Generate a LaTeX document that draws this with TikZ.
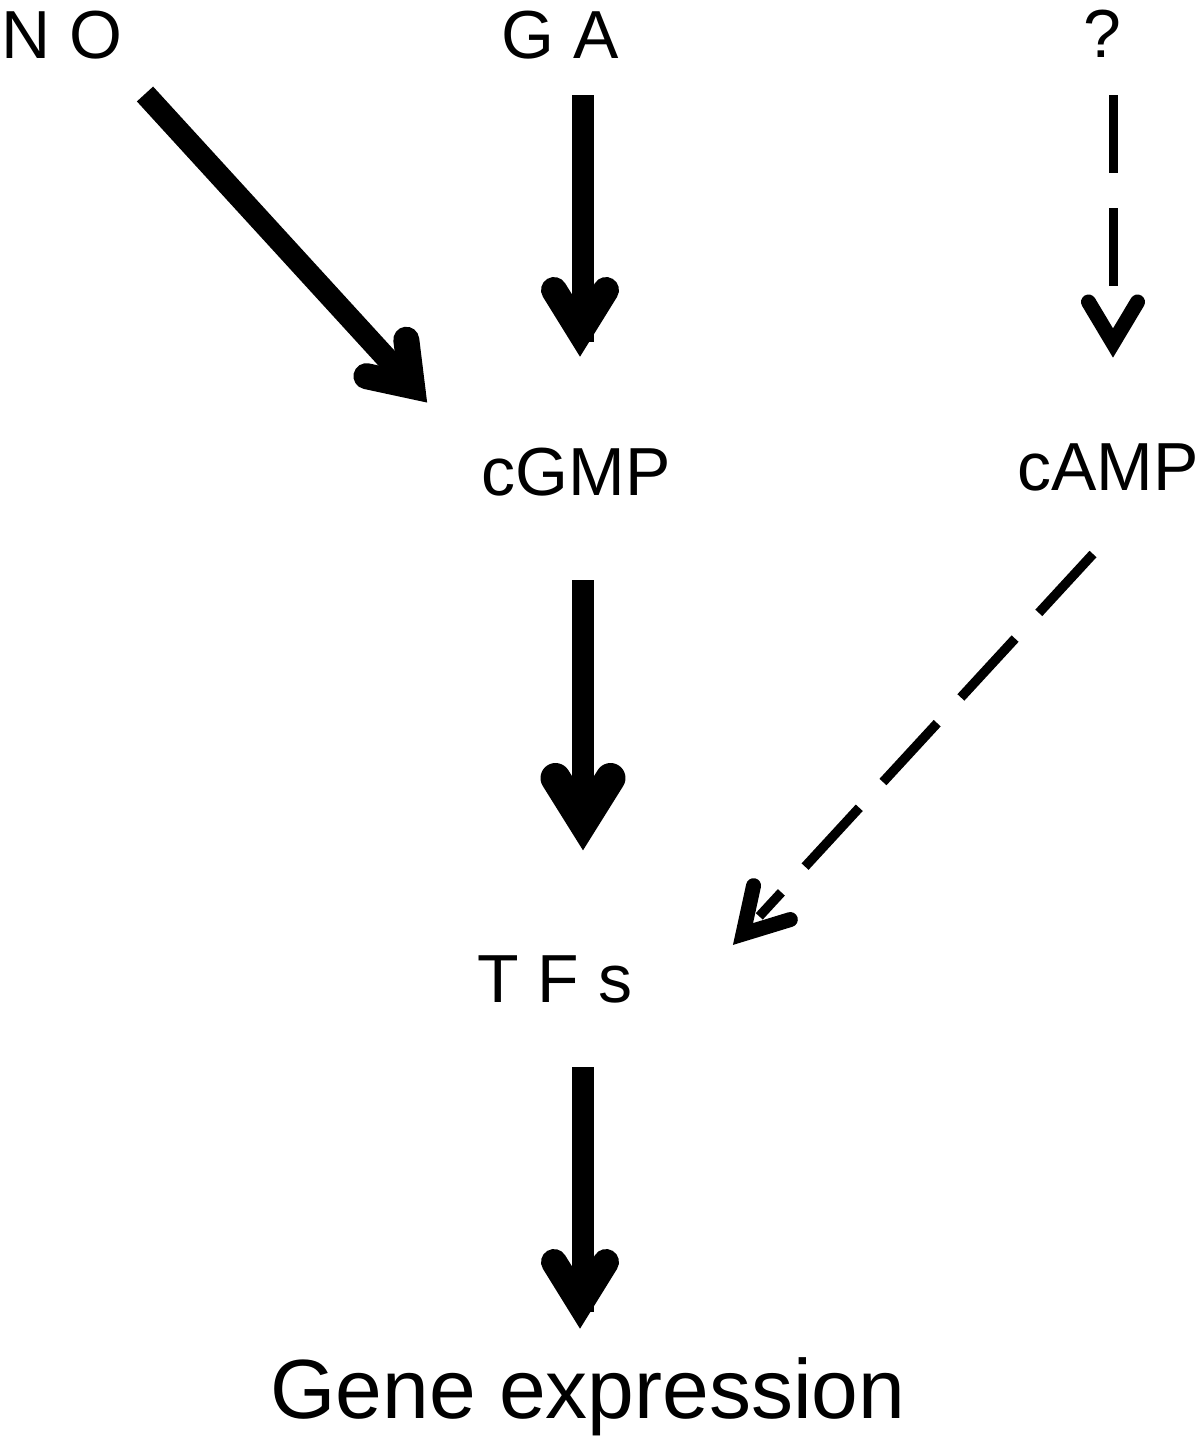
\documentclass[tikz,border=0pt]{standalone}
\usepackage{fontspec}
\setmainfont{Liberation Sans}
\usetikzlibrary{calc}
% head: #1 style, #2 prefix, #3 vertex, #4 back reference, #5 back distance, #6 half spread
\newcommand\myhead[6]{%
  \coordinate (#2m) at ($(#3)!#5!(#4)$);
  \coordinate (#2l) at ($(#2m)!#6!90:(#3)$);
  \coordinate (#2r) at ($(#2m)!#6!-90:(#3)$);
  \draw[#1] (#2l) -- (#3) -- (#2r);}
\begin{document}
\begin{tikzpicture}[x=1pt,y=-1pt,
  lbl/.style={inner sep=0pt, anchor=base, font=\fontsize{68}{80}\selectfont},
  biglbl/.style={inner sep=0pt, anchor=base, font=\fontsize{84}{100}\selectfont},
  bigshaft/.style={line width=22pt, line cap=butt},
  bighead/.style={line width=26pt, line cap=round, line join=miter},
  dshaft/.style={line width=9.5pt, line cap=butt, dash pattern=on 78pt off 35pt},
  dhead/.style={line width=15pt, line cap=round, line join=miter}]
\useasboundingbox (0,0) rectangle (1200,1438);

% labels
\node[lbl] (NO) at (62,58) {N O};
\node[lbl] (GA) at (560,58) {G A};
\node[lbl] (Q) at (1102,57) {?};
\node[lbl] (cGMP) at (576,495) {cGMP};
\node[lbl] (cAMP) at (1108,490) {cAMP};
\node[lbl] (TFs) at (555,1002) {T F s};
\node[biglbl] (GE) at (588,1418) {Gene expression};

% NO -> cGMP
\coordinate (a1s) at (145,94);
\coordinate (a1v) at (412,386);
\draw[bigshaft] (a1s) -- (a1v);
\myhead{bighead}{h1}{a1v}{a1s}{38pt}{27pt}

% GA -> cGMP
\coordinate (a2s) at (583,95);
\coordinate (a2e) at (583,342);
\coordinate (a2v) at (580,332);
\coordinate (a2r) at (580,95);
\draw[bigshaft] (a2s) -- (a2e);
\myhead{bighead}{h2}{a2v}{a2r}{42pt}{26pt}

% ? -> cAMP (dashed)
\coordinate (a3s) at (1113.5,95);
\coordinate (a3e) at (1113.5,290);
\coordinate (a3v) at (1113,343);
\coordinate (a3r) at (1113,95);
\draw[dshaft] (a3s) -- (a3e);
\myhead{dhead}{h3}{a3v}{a3r}{41pt}{24.5pt}

% cGMP -> TFs
\coordinate (a4s) at (583,580);
\coordinate (a4v) at (583,822);
\draw[bigshaft] (a4s) -- (a4v);
\myhead{bighead, line width=30pt}{h4}{a4v}{a4s}{44pt}{27.5pt}

% cAMP -> TFs (dashed)
\coordinate (a5s) at (1093,554);
\coordinate (a5v) at (743,934);
\coordinate (a5e) at ($(a5v)!24pt!(a5s)$);
\draw[dshaft, dash pattern=on 80pt off 35pt] (a5s) -- (a5e);
\myhead{dhead}{h5}{a5v}{a5s}{42.7pt}{25pt}

% TFs -> Gene expression
\coordinate (a6s) at (582.5,1067);
\coordinate (a6e) at (582.5,1312);
\coordinate (a6v) at (580,1304);
\coordinate (a6r) at (580,1067);
\draw[bigshaft] (a6s) -- (a6e);
\myhead{bighead}{h6}{a6v}{a6r}{42pt}{26pt}
\end{tikzpicture}
\end{document}
